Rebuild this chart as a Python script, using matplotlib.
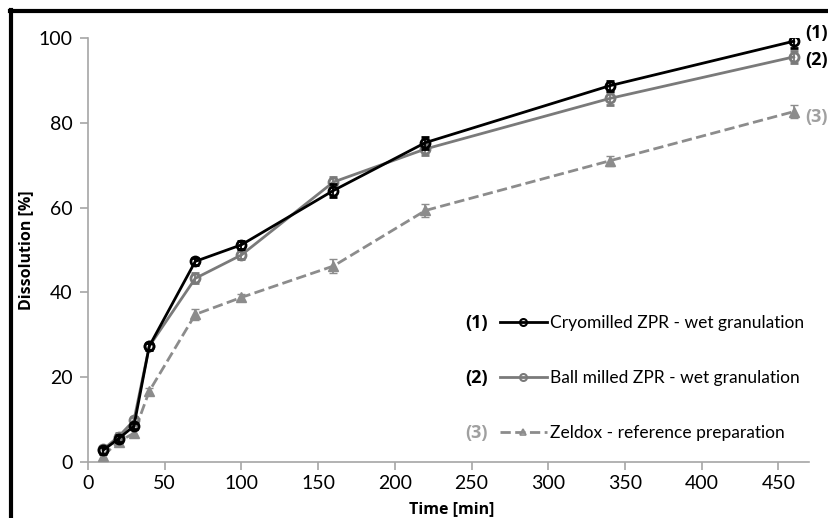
import numpy as np
import matplotlib.pyplot as plt
from matplotlib.lines import Line2D

plt.rcParams['font.family'] = ['Lato', 'DejaVu Sans']
BOLD = ['Open Sans', 'DejaVu Sans']

time_min = [10, 20, 30, 40, 70, 100, 160, 220, 340, 460]
cryo = [2.8, 5.5, 8.5, 27.3, 47.3, 51.2, 64.0, 75.3, 88.7, 99.2]
cryo_err = [0.8, 0.8, 0.8, 0.8, 0.9, 1.0, 1.5, 1.4, 1.2, 1.6]
ball = [3.0, 6.0, 9.8, 27.3, 43.3, 48.8, 66.0, 73.8, 85.7, 95.5]
ball_err = [0.8, 0.8, 0.9, 0.8, 1.2, 1.0, 1.2, 1.4, 1.6, 1.4]
zeldox = [1.5, 4.8, 6.8, 16.7, 34.8, 38.8, 46.2, 59.3, 71.0, 82.6]
zeldox_err = [0.8, 0.8, 0.8, 0.8, 1.2, 0.8, 1.6, 1.5, 1.2, 1.5]

labels = ["Cryomilled ZPR - wet granulation",
          "Ball milled ZPR - wet granulation",
          "Zeldox - reference preparation"]
tags = ["(1)", "(2)", "(3)"]

c1, c2, c3 = "#000000", "#7a7a7a", "#8c8c8c"
tag_cols = ["black", "black", "#a0a0a0"]

fig = plt.figure(figsize=(8.29, 5.18), dpi=100)
ax = fig.add_axes([0.106, 0.108, 0.87, 0.819])

ax.errorbar(time_min, cryo, yerr=cryo_err, color=c1, lw=2, marker="o", ms=6.5,
            mfc="none", mew=2, capsize=3, elinewidth=1.3, zorder=5)
ax.errorbar(time_min, ball, yerr=ball_err, color=c2, lw=2, marker="o", ms=6.5,
            mfc="none", mew=2, capsize=3, elinewidth=1.3, zorder=4)
ax.errorbar(time_min, zeldox, yerr=zeldox_err, color=c3, lw=2, ls="--", marker="^",
            ms=7, mfc=c3, mew=1, capsize=3, elinewidth=1.3, zorder=3)

ax.set_xlim(0, 470)
ax.set_ylim(0, 100)
ax.set_xticks(np.arange(0, 451, 50))
ax.set_yticks(np.arange(0, 101, 20))
for s in ["top", "right"]:
    ax.spines[s].set_visible(False)
for s in ["left", "bottom"]:
    ax.spines[s].set_color("#a6a6a6")
    ax.spines[s].set_linewidth(1.2)
ax.tick_params(colors="#a6a6a6", labelcolor="black", labelsize=14, length=6, width=1.2)
ax.tick_params(axis="y", pad=5)
ax.set_xlabel("Time [min]", fontsize=11.5, fontweight="bold", family=BOLD)
ax.set_ylabel("Dissolution [%]", fontsize=11.5, fontweight="bold", family=BOLD)
ax.xaxis.set_label_coords(0.505, -0.092)
ax.yaxis.set_label_coords(-0.075, 0.5)

# end labels next to the last points
ends = [cryo[-1], ball[-1], zeldox[-1]]
offs = [6, -2, -4]
for y, tag, col, dy in zip(ends, tags, tag_cols, offs):
    ax.annotate(tag, (time_min[-1], y), xytext=(8, dy), textcoords="offset points",
                fontsize=13, fontweight="bold", family=BOLD, color=col, va="center",
                annotation_clip=False)

handles = [
    Line2D([], [], color=c1, lw=2, marker="o", ms=5, mfc="none", mew=1.5),
    Line2D([], [], color=c2, lw=2, marker="o", ms=5, mfc="none", mew=1.5),
    Line2D([], [], color=c3, lw=2, ls="--", marker="^", ms=5, mfc="none", mew=1.2),
]
leg = ax.legend(handles, labels, loc="upper left", bbox_to_anchor=(500 / 829, 1 - 315 / 518),
                bbox_transform=fig.transFigure, frameon=False, fontsize=12.5,
                handlelength=2.7, handletextpad=0.2, labelspacing=2.25,
                borderpad=0, borderaxespad=0)
fig.canvas.draw()
rend = fig.canvas.get_renderer()
for txt, tag, col in zip(leg.get_texts(), tags, tag_cols):
    bb = txt.get_window_extent(rend)
    yc = (bb.y0 + bb.y1) / 2 / fig.bbox.height
    fig.text(488 / 829, yc, tag, ha="right", va="center", fontsize=13,
             fontweight="bold", family=BOLD, color=col)

# frame lines at left and top of the figure
fig.add_artist(Line2D([0.013, 0.013], [0, 0.98], color="black", lw=3, transform=fig.transFigure))
fig.add_artist(Line2D([0.012, 1.0], [0.979, 0.979], color="black", lw=3, transform=fig.transFigure))

fig.savefig("out.png", dpi=100)
